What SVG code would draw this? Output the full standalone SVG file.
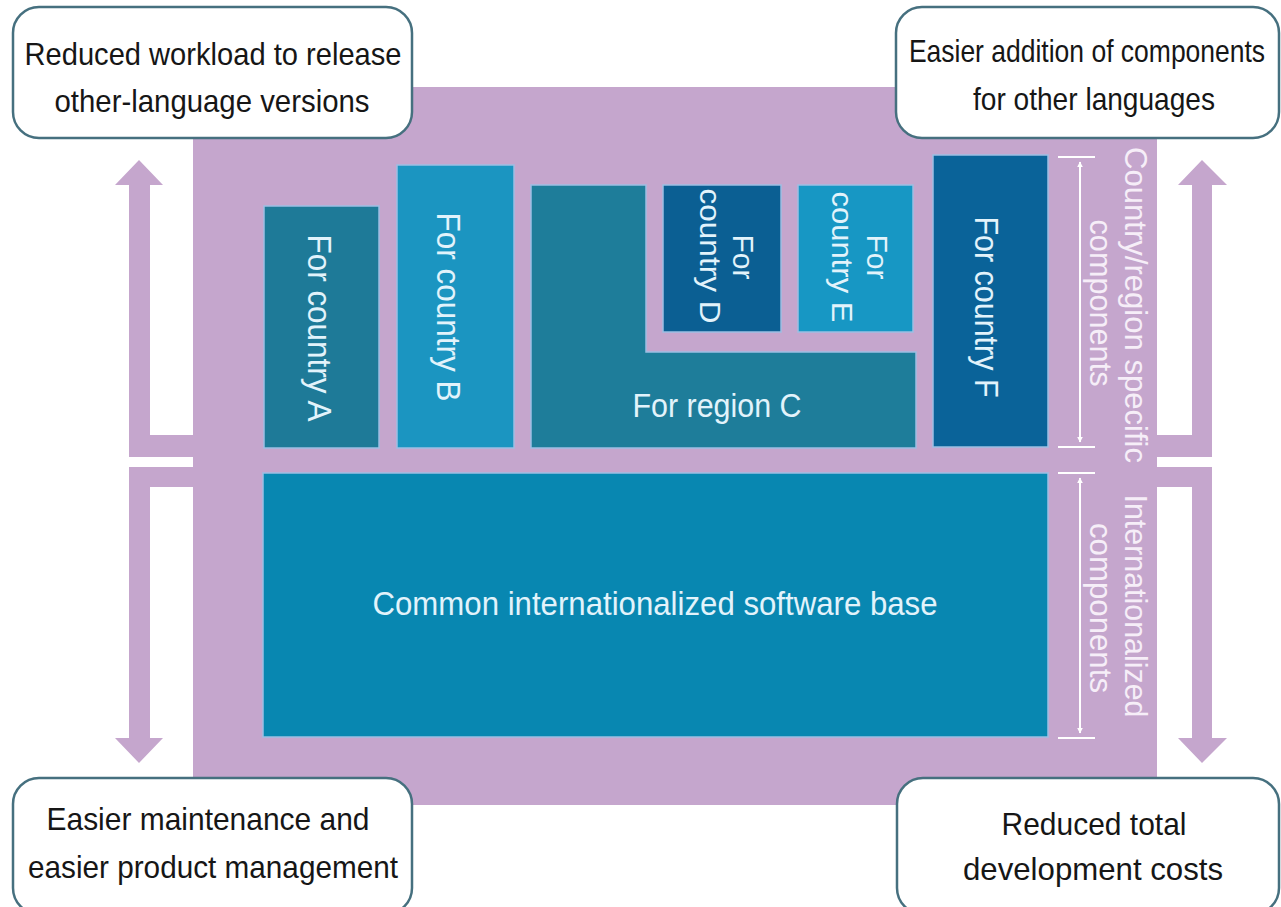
<svg xmlns="http://www.w3.org/2000/svg" width="1281" height="907" viewBox="0 0 1281 907">
<style>
.box{fill:#ffffff;stroke:#46707f;stroke-width:2.5}
.bt{font-family:"Liberation Sans",Arial,sans-serif;font-size:32px;fill:#161616;text-anchor:middle}
.wt{font-family:"Liberation Sans",Arial,sans-serif;font-size:34px;fill:#e2f3fb;text-anchor:middle}
.lt{font-family:"Liberation Sans",Arial,sans-serif;font-size:32px;fill:#f6eef8;text-anchor:middle}
.blk{stroke:#9dbfe3;stroke-width:1.5}
.pur{fill:#c5a6cd}
.dim{stroke:#ffffff;stroke-width:2;fill:none}
</style>
<defs>
<marker id="ah" viewBox="0 0 10 10" refX="9" refY="5" markerWidth="6" markerHeight="8" orient="auto-start-reverse" markerUnits="userSpaceOnUse">
<path d="M0,0 L10,5 L0,10 Z" fill="#ffffff"/>
</marker>
</defs>
<rect width="1281" height="907" fill="#ffffff"/>
<g id="background">
<rect class="pur" x="193" y="87" width="964" height="718"/>
</g>
<g id="connectors">
<path class="pur" d="M193,457 H129 V185 H115 L139,160 L163,185 H150 V435 H193 Z"/>
<path class="pur" d="M193,467 H129 V738 H115 L139,763 L163,738 H150 V487 H193 Z"/>
<path class="pur" d="M1157,457 H1212 V185 H1227 L1202,160 L1178,185 H1192 V435 H1157 Z"/>
<path class="pur" d="M1157,467 H1212 V738 H1227 L1202,763 L1178,738 H1192 V487 H1157 Z"/>
<g id="dimensions">
<line class="dim" x1="1058" y1="157" x2="1095" y2="157"/>
<line class="dim" x1="1058" y1="447" x2="1095" y2="447"/>
<line class="dim" x1="1080" y1="162" x2="1080" y2="442" marker-start="url(#ah)" marker-end="url(#ah)"/>
<line class="dim" x1="1058" y1="473" x2="1095" y2="473"/>
<line class="dim" x1="1058" y1="738" x2="1095" y2="738"/>
<line class="dim" x1="1080" y1="478" x2="1080" y2="733" marker-start="url(#ah)" marker-end="url(#ah)"/>
</g>
</g>
<g id="country-a">
<rect class="blk" x="264" y="206" width="115" height="242" fill="#1e7a98"/>
<text class="wt" transform="translate(308,328) rotate(90)" textLength="187" lengthAdjust="spacingAndGlyphs">For country A</text>
</g>
<g id="country-b">
<rect class="blk" x="397" y="165" width="117" height="283" fill="#1b95c1"/>
<text class="wt" transform="translate(437,307) rotate(90)" textLength="189" lengthAdjust="spacingAndGlyphs">For country B</text>
</g>
<g id="region-c">
<path class="blk" d="M531,185 H646 V352 H916 V448 H531 Z" fill="#1e7d9a"/>
<text class="wt" x="717" y="417" textLength="169" lengthAdjust="spacingAndGlyphs">For region C</text>
</g>
<g id="country-d">
<rect class="blk" x="663" y="185" width="118" height="147" fill="#0b5f93"/>
<text class="wt" style="font-size:30px" transform="translate(733,257) rotate(90)" textLength="45" lengthAdjust="spacingAndGlyphs">For</text>
<text class="wt" style="font-size:30px" transform="translate(700,256) rotate(90)" textLength="135" lengthAdjust="spacingAndGlyphs">country D</text>
</g>
<g id="country-e">
<rect class="blk" x="798" y="185" width="115" height="147" fill="#1797c4"/>
<text class="wt" style="font-size:30px" transform="translate(867,257) rotate(90)" textLength="45" lengthAdjust="spacingAndGlyphs">For</text>
<text class="wt" style="font-size:30px" transform="translate(832,257) rotate(90)" textLength="131" lengthAdjust="spacingAndGlyphs">country E</text>
</g>
<g id="country-f">
<rect class="blk" x="933" y="155" width="115" height="292" fill="#0a6399"/>
<text class="wt" transform="translate(975,307) rotate(90)" textLength="181" lengthAdjust="spacingAndGlyphs">For country F</text>
</g>
<g id="common-base">
<rect class="blk" x="263" y="473" width="785" height="264" fill="#0887b1"/>
<text class="wt" x="655" y="615" textLength="565" lengthAdjust="spacingAndGlyphs">Common internationalized software base</text>
</g>
<g id="label-country-region">
<text class="lt" transform="translate(1125,305) rotate(90)" textLength="316" lengthAdjust="spacingAndGlyphs">Country/region specific</text>
<text class="lt" transform="translate(1090,303) rotate(90)" textLength="167" lengthAdjust="spacingAndGlyphs">components</text>
</g>
<g id="label-internationalized">
<text class="lt" transform="translate(1125,606) rotate(90)" textLength="223" lengthAdjust="spacingAndGlyphs">Internationalized</text>
<text class="lt" transform="translate(1090,608) rotate(90)" textLength="170" lengthAdjust="spacingAndGlyphs">components</text>
</g>
<g id="box-top-left">
<rect class="box" x="13" y="7" width="399" height="131" rx="26"/>
<text class="bt" x="213" y="65" textLength="377" lengthAdjust="spacingAndGlyphs">Reduced workload to release</text>
<text class="bt" x="212" y="112" textLength="315" lengthAdjust="spacingAndGlyphs">other-language versions</text>
</g>
<g id="box-top-right">
<rect class="box" x="896" y="7" width="383" height="131" rx="26"/>
<text class="bt" transform="translate(1087,62) scale(0.828,1)">Easier addition of components</text>
<text class="bt" x="1094" y="110" textLength="242" lengthAdjust="spacingAndGlyphs">for other languages</text>
</g>
<g id="box-bottom-left">
<rect class="box" x="13" y="778" width="399" height="136" rx="26"/>
<text class="bt" x="208" y="830" textLength="323" lengthAdjust="spacingAndGlyphs">Easier maintenance and</text>
<text class="bt" x="213" y="878" textLength="370" lengthAdjust="spacingAndGlyphs">easier product management</text>
</g>
<g id="box-bottom-right">
<rect class="box" x="897" y="778" width="382" height="136" rx="26"/>
<text class="bt" x="1094" y="835" textLength="185" lengthAdjust="spacingAndGlyphs">Reduced total</text>
<text class="bt" x="1093" y="880" textLength="260" lengthAdjust="spacingAndGlyphs">development costs</text>
</g>
</svg>
